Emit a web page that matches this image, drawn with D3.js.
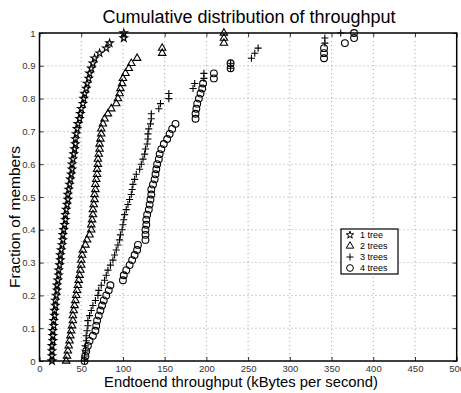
<!DOCTYPE html>
<html>
<head>
<meta charset="utf-8">
<script src="https://cdn.jsdelivr.net/npm/d3@7"></script>
<style>
  body { margin: 0; background: #fff; }
  svg { display: block; font-family: "Liberation Sans", Arial, Helvetica, sans-serif; }
</style>
</head>
<body>
<svg id="chart" width="461" height="393"></svg>
<script>
// throughput samples (kBytes/s), sorted, one array per tree count
const oneTree = [15,15,15,15,16,16,16,17,17,18, 18,19,19,20,21,21,22,23,23,24,
  25,25,26,27,28,28,29,30,31,31, 32,33,34,34,35,36,37,38,39,39,
  40,41,42,43,43,44,45,46,48,49, 50,52,53,54,56,57,59,60,62,64,
  66,72,80,84,101,101];
const twoTrees = [32,33,34,35,36,37,38,39,40,40, 41,42,43,44,45,46,47,48,49,50,
  50,51,52,55,57,60,62,62,63,64, 64,65,66,66,67,67,68,69,69,70,
  70,71,72,72,73,74,74,76,78,82, 86,92,94,96,97,99,100,103,107,110,
  117,147,147,221,221,221];
const threeTrees = [54,54,55,55,56,56,57,58,58,60, 62,64,67,70,71,74,78,80,82,85,
  88,90,92,94,96,97,99,100,101,102, 104,106,108,110,111,112,114,116,120,122,
  124,126,127,129,130,130,131,133,134,134, 143,145,155,155,184,186,197,197,229,229,
  254,258,262,342,342,361];
const fourTrees = [54,55,56,58,60,64,67,68,69,71, 73,75,77,80,83,85,100,101,104,108,
  111,114,117,118,127,127,127,128,128,129, 131,132,133,134,134,136,138,139,140,141,
  143,144,146,149,153,156,159,163,187,187, 188,189,191,193,195,196,209,209,229,229,
  341,341,341,366,377,377];

const seriesNames = ['1 tree', '2 trees', '3 trees', '4 trees'];
const xTicks = [0, 50, 100, 150, 200, 250, 300, 350, 400, 450, 500];
const yTicks = [0, 0.1, 0.2, 0.3, 0.4, 0.5, 0.6, 0.7, 0.8, 0.9, 1];

// Matlab style thin plus marker
const plusSymbol = {
  draw(ctx, size) {
    const r = Math.sqrt(size) / 2;
    ctx.moveTo(-r, 0); ctx.lineTo(r, 0);
    ctx.moveTo(0, -r); ctx.lineTo(0, r);
  }
};

const series = [
  { name: seriesNames[0], values: oneTree, type: d3.symbolStar, size: 17 },
  { name: seriesNames[1], values: twoTrees, type: d3.symbolTriangle, size: 24 },
  { name: seriesNames[2], values: threeTrees, type: plusSymbol, size: 50 },
  { name: seriesNames[3], values: fourTrees, type: d3.symbolCircle, size: 36 }
];

const svg = d3.select('#chart');
const plotLeft = 39.5, plotRight = 456.7, plotTop = 33, plotBottom = 361;

const x = d3.scaleLinear().domain([0, 500]).range([plotLeft, plotRight]);
const y = d3.scaleLinear().domain([0, 1]).range([plotBottom, plotTop]);

// dotted grid
const grid = svg.append('g').attr('class', 'grid')
  .attr('stroke', '#8c8c8c').attr('stroke-width', 0.8).attr('stroke-dasharray', '1,3');
grid.selectAll('.gx').data(xTicks.slice(1, -1)).enter().append('line')
  .attr('x1', d => x(d)).attr('x2', d => x(d))
  .attr('y1', plotTop).attr('y2', plotBottom);
grid.selectAll('.gy').data(yTicks.slice(1, -1)).enter().append('line')
  .attr('x1', plotLeft).attr('x2', plotRight)
  .attr('y1', d => y(d)).attr('y2', d => y(d));

// axes, ticks pointing inward
svg.append('g')
  .attr('transform', `translate(0,${plotBottom})`)
  .call(d3.axisBottom(x).tickValues(xTicks).tickFormat(d => d).tickSize(-4).tickPadding(4));
svg.append('g')
  .attr('transform', `translate(${plotLeft},0)`)
  .call(d3.axisLeft(y).tickValues(yTicks).tickFormat(d => String(d)).tickSize(-4).tickPadding(4));
svg.append('g')
  .attr('transform', `translate(0,${plotTop})`)
  .call(d3.axisTop(x).tickValues(xTicks).tickFormat('').tickSize(-4));
svg.append('g')
  .attr('transform', `translate(${plotRight},0)`)
  .call(d3.axisRight(y).tickValues(yTicks).tickFormat('').tickSize(-4));

svg.selectAll('.domain').remove();
svg.selectAll('.tick line').attr('stroke', '#000').attr('stroke-width', 0.8);
svg.selectAll('.tick text').attr('font-size', 9.5).attr('fill', '#333')
  .attr('font-family', '"Liberation Sans", Arial, sans-serif');

// frame
svg.append('rect')
  .attr('x', plotLeft).attr('y', plotTop)
  .attr('width', plotRight - plotLeft).attr('height', plotBottom - plotTop)
  .attr('fill', 'none').attr('stroke', '#000').attr('stroke-width', 1.5);

// markers, fraction = rank in the sorted sample
series.forEach(s => {
  const n = s.values.length;
  const sym = d3.symbol().type(s.type).size(s.size);
  svg.append('g').attr('class', 'series')
    .selectAll('path')
    .data(s.values.map((v, i) => ({ v, f: i / (n - 1) })))
    .enter().append('path')
    .attr('d', sym)
    .attr('transform', d => `translate(${x(d.v)},${y(d.f)})`)
    .attr('fill', 'none')
    .attr('stroke', '#000')
    .attr('stroke-width', 1.1);
});

// title and axis labels
svg.append('text')
  .attr('x', 249).attr('y', 23)
  .attr('text-anchor', 'middle').attr('font-size', 18)
  .text('Cumulative distribution of throughput');
svg.append('text')
  .attr('x', 241).attr('y', 387)
  .attr('text-anchor', 'middle').attr('font-size', 14.8)
  .text('Endtoend throughput (kBytes per second)');
svg.append('text')
  .attr('transform', 'translate(20,217) rotate(-90)')
  .attr('text-anchor', 'middle').attr('font-size', 15.5)
  .text('Fraction of members');

// legend
const legend = svg.append('g').attr('transform', 'translate(341,229)');
legend.append('rect')
  .attr('width', 57).attr('height', 45)
  .attr('fill', '#fff').attr('stroke', '#000').attr('stroke-width', 1.2);
const items = legend.selectAll('.item').data(series).enter().append('g')
  .attr('transform', (d, i) => `translate(0,${6 + i * 11})`);
items.append('path')
  .attr('d', d => d3.symbol().type(d.type).size(d.size)())
  .attr('transform', 'translate(9,0)')
  .attr('fill', 'none').attr('stroke', '#000').attr('stroke-width', 1);
items.append('text')
  .attr('x', 19).attr('dy', '0.35em')
  .attr('font-size', 9)
  .text(d => d.name);
</script>
</body>
</html>
